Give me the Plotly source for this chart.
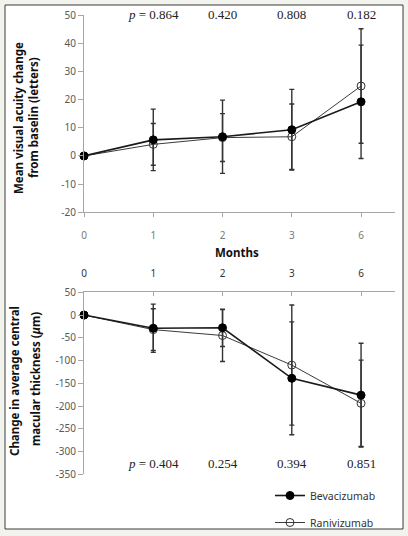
import plotly.graph_objects as go

# ---------------- data ----------------
months = ["0", "1", "2", "3", "6"]

va_bev = [0, 5.7, 6.8, 9.3, 19.2]
va_bev_err = [0, 10.9, 13.0, 14.3, 20.1]
va_ran = [0, 4.1, 6.5, 6.8, 24.8]
va_ran_err = [0, 7.4, 8.5, 11.6, 20.3]

cmt_bev = [0, -29, -28, -139, -176]
cmt_bev_err = [0, 53, 41, 124, 114]
cmt_ran = [0, -32, -45, -110, -194]
cmt_ran_err = [0, 46, 57, 132, 95]

va_ticks = [-20, -10, 0, 10, 20, 30, 40, 50]
cmt_ticks = [-350, -300, -250, -200, -150, -100, -50, 0, 50]

va_p = ["0.864", "0.420", "0.808", "0.182"]
cmt_p = ["0.404", "0.254", "0.394", "0.851"]

# --------------------------------------
W, H = 408, 536
xpos = list(range(len(months)))

def px_x(p):
    return p / W

def px_y(p):
    return 1 - p / H

SANS = "Noto Sans"
SERIF = "Liberation Serif"

fig = go.Figure()

def add_series(x, y, err, name, filled, xa, ya, showlegend):
    fig.add_trace(go.Scatter(
        x=x, y=y, name=name, mode="lines+markers",
        xaxis=xa, yaxis=ya, cliponaxis=False,
        showlegend=showlegend, legendgroup=name,
        legendrank=1 if filled else 2,
        line=dict(color="#1a1a1a" if filled else "#3a3a3a",
                  width=1.6 if filled else 1.0),
        marker=dict(symbol="circle" if filled else "circle-open",
                    size=8,
                    color="#000000" if filled else "#333333",
                    line=dict(width=1, color="#000000" if filled else "#333333")),
        error_y=dict(type="data", array=err, visible=True,
                     color="#333333", thickness=1.4, width=2.5),
    ))

add_series(xpos, va_ran, va_ran_err, "Ranivizumab", False, "x", "y", False)
add_series(xpos, va_bev, va_bev_err, "Bevacizumab", True, "x", "y", False)
add_series(xpos, cmt_ran, cmt_ran_err, "Ranivizumab", False, "x2", "y2", True)
add_series(xpos, cmt_bev, cmt_bev_err, "Bevacizumab", True, "x2", "y2", True)

pfont = dict(family=SERIF, size=13, color="#222222")
annotations = []
for i, t in enumerate(va_p):
    txt = ("<i>p</i> = " + t) if i == 0 else t
    annotations.append(dict(x=xpos[i + 1], y=px_y(14), xref="x", yref="paper",
                            text=txt, showarrow=False, font=pfont,
                            xanchor="center", yanchor="middle"))
for i, t in enumerate(cmt_p):
    txt = ("<i>p</i> = " + t) if i == 0 else t
    annotations.append(dict(x=xpos[i + 1], y=px_y(463), xref="x2", yref="paper",
                            text=txt, showarrow=False, font=pfont,
                            xanchor="center", yanchor="middle"))

title_font = dict(family=SANS, size=11.5, color="#111111")

def vtitle(text, xc, yc):
    annotations.append(dict(x=px_x(xc), y=px_y(yc), xref="paper", yref="paper",
                            text="<b>" + text + "</b>", textangle=-90,
                            showarrow=False, font=title_font,
                            xanchor="center", yanchor="middle"))

vtitle("Mean visual acuity change", 18, 118)
vtitle("from baselin (letters)", 33, 118)
vtitle("Change in average central", 14, 381)
vtitle("macular thickness (<i>μ</i>m)", 35, 379)
annotations.append(dict(x=px_x(237), y=px_y(252), xref="paper", yref="paper",
                        text="<b>Months</b>", showarrow=False, font=title_font,
                        xanchor="center", yanchor="middle"))

axis_line = "#a6a6a6"
tick_font = dict(family=SANS, size=10, color="#595959")

fig.update_layout(
    width=W, height=H,
    margin=dict(l=0, r=0, t=0, b=0, autoexpand=False),
    paper_bgcolor="#f3f3ee",
    plot_bgcolor="rgba(0,0,0,0)",
    annotations=annotations,
    shapes=[dict(type="rect", xref="paper", yref="paper", layer="below",
                 x0=px_x(5), x1=px_x(403), y0=px_y(529), y1=px_y(5),
                 fillcolor="white", line=dict(color="#3a3a3a", width=1))],
    xaxis=dict(domain=[px_x(84), px_x(395)], range=[0, 4.49],
               tickvals=xpos, ticktext=months, showline=True,
               linecolor=axis_line, linewidth=1, ticks="outside", ticklen=4,
               tickcolor=axis_line, showgrid=False, zeroline=False,
               tickfont=dict(family=SANS, size=10, color="#7a7a7a"),
               ticklabelstandoff=10, anchor="y", automargin=False),
    yaxis=dict(domain=[px_y(212.3), px_y(15)], range=[-20, 50],
               tickvals=va_ticks, ticktext=[str(v) for v in va_ticks],
               showline=True, linecolor=axis_line, linewidth=1,
               ticks="outside", ticklen=5, tickcolor=axis_line,
               showgrid=False, zeroline=False, tickfont=tick_font,
               anchor="x", automargin=False),
    xaxis2=dict(domain=[px_x(84), px_x(395)], range=[0, 4.49],
                tickvals=xpos, ticktext=months, showline=True, side="top",
                linecolor=axis_line, linewidth=1, ticks="inside", ticklen=4,
                tickcolor=axis_line, showgrid=False, zeroline=False,
                tickfont=dict(family=SANS, size=10, color="#333333"),
                ticklabelstandoff=10, anchor="y2", automargin=False),
    yaxis2=dict(domain=[px_y(474.3), px_y(292.3)], range=[-350, 50],
                tickvals=cmt_ticks, ticktext=[str(v) for v in cmt_ticks],
                showline=True, linecolor=axis_line, linewidth=1,
                ticks="outside", ticklen=5, tickcolor=axis_line,
                showgrid=False, zeroline=False, tickfont=tick_font,
                anchor="x2", automargin=False),
    legend=dict(x=px_x(270), y=px_y(481), xanchor="left", yanchor="top",
                traceorder="grouped", tracegroupgap=8,
                bgcolor="rgba(0,0,0,0)",
                font=dict(family=SANS, size=10.5, color="#333333")),
)

fig.write_html("out.html", config={"displayModeBar": False},
               post_script="document.body.style.margin='0px';")
